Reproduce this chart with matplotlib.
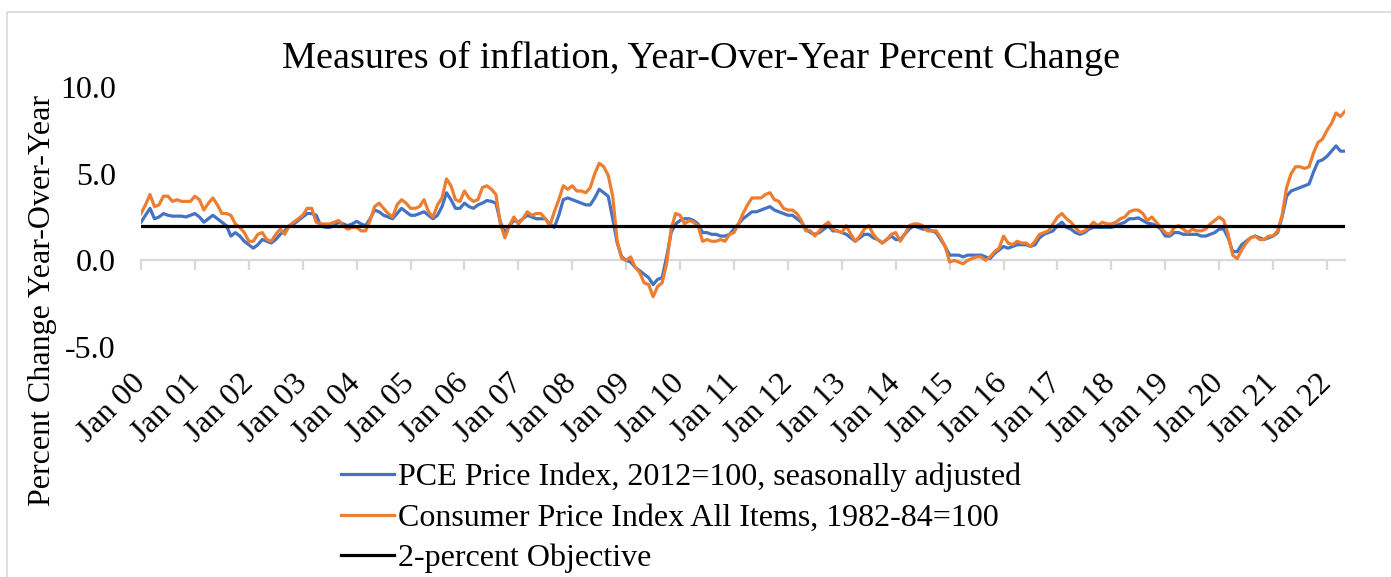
import matplotlib
matplotlib.use("Agg")
import matplotlib.pyplot as plt
from matplotlib.patches import Rectangle

# ---------------- data ----------------
tick_labels = ["Jan 00", "Jan 01", "Jan 02", "Jan 03", "Jan 04", "Jan 05", "Jan 06",
               "Jan 07", "Jan 08", "Jan 09", "Jan 10", "Jan 11", "Jan 12", "Jan 13",
               "Jan 14", "Jan 15", "Jan 16", "Jan 17", "Jan 18", "Jan 19", "Jan 20",
               "Jan 21", "Jan 22"]

pce = [
    # 2000
    2.2, 2.6, 3.0, 2.4, 2.5, 2.7, 2.6, 2.55, 2.55, 2.55, 2.5, 2.6,
    # 2001
    2.7, 2.5, 2.2, 2.4, 2.6, 2.4, 2.2, 2.0, 1.4, 1.6, 1.4, 1.1,
    # 2002
    0.9, 0.7, 0.9, 1.2, 1.1, 1.0, 1.2, 1.5, 1.7, 2.0, 2.1, 2.3,
    # 2003
    2.5, 2.7, 2.7, 2.6, 2.0, 1.9, 1.9, 2.0, 2.2, 2.1, 2.0, 2.1,
    # 2004
    2.25, 2.1, 2.0, 2.4, 2.9, 2.8, 2.6, 2.5, 2.4, 2.7, 3.0, 2.8,
    # 2005
    2.6, 2.6, 2.7, 2.8, 2.6, 2.4, 2.6, 3.1, 3.9, 3.5, 3.0, 3.0,
    # 2006
    3.3, 3.1, 3.0, 3.2, 3.3, 3.45, 3.4, 3.3, 2.2, 1.6, 2.0, 2.3,
    # 2007
    2.2, 2.4, 2.6, 2.5, 2.4, 2.4, 2.4, 2.1, 1.9, 2.6, 3.5, 3.6,
    # 2008
    3.5, 3.4, 3.3, 3.2, 3.2, 3.6, 4.1, 3.9, 3.7, 2.4, 1.0, 0.2,
    # 2009
    0.0, -0.1, -0.4, -0.6, -0.8, -1.0, -1.4, -1.1, -1.0, 0.2, 1.6, 2.1,
    # 2010
    2.3, 2.4, 2.4, 2.3, 2.1, 1.6, 1.6, 1.5, 1.5, 1.4, 1.4, 1.5,
    # 2011
    1.8, 2.1, 2.4, 2.6, 2.8, 2.8, 2.9, 3.0, 3.1, 2.9, 2.8, 2.7,
    # 2012
    2.6, 2.6, 2.4, 2.2, 1.8, 1.6, 1.5, 1.6, 1.8, 2.0, 1.7, 1.7,
    # 2013
    1.6, 1.5, 1.3, 1.1, 1.3, 1.5, 1.5, 1.3, 1.2, 1.0, 1.2, 1.4,
    # 2014
    1.2, 1.2, 1.5, 1.8, 2.0, 1.9, 1.8, 1.8, 1.7, 1.6, 1.2, 0.8,
    # 2015
    0.3, 0.3, 0.3, 0.2, 0.3, 0.3, 0.3, 0.3, 0.2, 0.1, 0.4, 0.6,
    # 2016
    0.8, 0.7, 0.8, 0.9, 0.9, 0.9, 0.8, 0.9, 1.3, 1.5, 1.6, 1.7,
    # 2017
    2.0, 2.2, 1.9, 1.8, 1.6, 1.5, 1.6, 1.8, 1.9, 1.9, 1.9, 1.9,
    # 2018
    1.9, 2.0, 2.1, 2.2, 2.4, 2.4, 2.45, 2.3, 2.15, 2.1, 2.0, 1.8,
    # 2019
    1.4, 1.4, 1.6, 1.6, 1.5, 1.5, 1.5, 1.5, 1.4, 1.4, 1.5, 1.6,
    # 2020
    1.8, 1.8, 1.3, 0.5, 0.5, 0.9, 1.1, 1.3, 1.4, 1.3, 1.2, 1.3,
    # 2021
    1.4, 1.6, 2.5, 3.7, 4.0, 4.1, 4.2, 4.3, 4.4, 5.1, 5.7, 5.8,
    # 2022
    6.0, 6.3, 6.6, 6.3, 6.3,
]

cpi = [
    # 2000
    2.7, 3.2, 3.8, 3.1, 3.2, 3.7, 3.7, 3.4, 3.5, 3.4, 3.4, 3.4,
    # 2001
    3.7, 3.5, 2.9, 3.3, 3.6, 3.2, 2.7, 2.7, 2.6, 2.1, 1.9, 1.6,
    # 2002
    1.1, 1.1, 1.5, 1.6, 1.2, 1.1, 1.5, 1.8, 1.5, 2.0, 2.2, 2.4,
    # 2003
    2.6, 3.0, 3.0, 2.2, 2.1, 2.1, 2.1, 2.2, 2.3, 2.0, 1.8, 1.9,
    # 2004
    1.9, 1.7, 1.7, 2.3, 3.1, 3.3, 3.0, 2.7, 2.5, 3.2, 3.5, 3.3,
    # 2005
    3.0, 3.0, 3.1, 3.5, 2.8, 2.5, 3.2, 3.6, 4.7, 4.3, 3.5, 3.4,
    # 2006
    4.0, 3.6, 3.4, 3.5, 4.2, 4.3, 4.1, 3.8, 2.1, 1.3, 2.0, 2.5,
    # 2007
    2.1, 2.4, 2.8, 2.6, 2.7, 2.7, 2.4, 2.0, 2.8, 3.5, 4.3, 4.1,
    # 2008
    4.3, 4.0, 4.0, 3.9, 4.2, 5.0, 5.6, 5.4, 4.9, 3.7, 1.1, 0.1,
    # 2009
    0.0, 0.2, -0.4, -0.7, -1.3, -1.4, -2.1, -1.5, -1.3, -0.2, 1.8, 2.7,
    # 2010
    2.6, 2.1, 2.3, 2.2, 2.0, 1.1, 1.2, 1.1, 1.1, 1.2, 1.1, 1.5,
    # 2011
    1.6, 2.1, 2.7, 3.2, 3.6, 3.6, 3.6, 3.8, 3.9, 3.5, 3.4, 3.0,
    # 2012
    2.9, 2.9, 2.7, 2.3, 1.7, 1.7, 1.4, 1.7, 2.0, 2.2, 1.8, 1.7,
    # 2013
    1.6, 2.0, 1.5, 1.1, 1.4, 1.8, 2.0, 1.5, 1.2, 1.0, 1.2, 1.5,
    # 2014
    1.6, 1.1, 1.5, 2.0, 2.1, 2.1, 2.0, 1.7, 1.7, 1.7, 1.3, 0.8,
    # 2015
    -0.1, 0.0, -0.1, -0.2, 0.0, 0.1, 0.2, 0.2, 0.0, 0.2, 0.5, 0.7,
    # 2016
    1.4, 1.0, 0.9, 1.1, 1.0, 1.0, 0.8, 1.1, 1.5, 1.6, 1.7, 2.1,
    # 2017
    2.5, 2.7, 2.4, 2.2, 1.9, 1.6, 1.7, 1.9, 2.2, 2.0, 2.2, 2.1,
    # 2018
    2.1, 2.2, 2.4, 2.5, 2.8, 2.9, 2.9, 2.7, 2.3, 2.5, 2.2, 1.9,
    # 2019
    1.6, 1.5, 1.9, 2.0, 1.8, 1.6, 1.8, 1.7, 1.7, 1.8, 2.1, 2.3,
    # 2020
    2.5, 2.3, 1.5, 0.3, 0.1, 0.6, 1.0, 1.3, 1.4, 1.2, 1.2, 1.4,
    # 2021
    1.4, 1.7, 2.6, 4.2, 5.0, 5.4, 5.4, 5.3, 5.4, 6.2, 6.8, 7.0,
    # 2022
    7.5, 7.9, 8.5, 8.3, 8.6,
]

objective = 2.0

series_labels = ["PCE Price Index, 2012=100, seasonally adjusted",
                 "Consumer Price Index All Items, 1982-84=100",
                 "2-percent Objective"]
y_ticks = [-5.0, 0.0, 5.0, 10.0]

# ---------------- figure ----------------
plt.rcParams['font.family'] = ['Liberation Serif', 'DejaVu Serif']
W, H = 1391, 577
fig = plt.figure(figsize=(W / 100, H / 100), dpi=100)

# chart border
fig.patches.append(Rectangle((7 / W, -0.05), 1.2, 1 - 11.5 / H + 0.05,
                             transform=fig.transFigure, fill=False,
                             edgecolor="#D9D9D9", linewidth=1.2))

ax_left, ax_right = 141 / W, 1345 / W
ax_top, ax_bot = 1 - 87 / H, 1 - 347 / H
ax = fig.add_axes([ax_left, ax_bot, ax_right - ax_left, ax_top - ax_bot])

n = len(cpi)
x = list(range(n))
blue, orange = "#4472C4", "#ED7D31"
ax.plot(x, pce, color=blue, lw=2.3, solid_joinstyle="round", zorder=3,
        label=series_labels[0])
ax.plot(x, cpi, color=orange, lw=2.3, solid_joinstyle="round", zorder=4,
        label=series_labels[1])
ax.plot(x, [objective] * n, color="black", lw=2.3, zorder=5,
        label=series_labels[2])

ax.set_xlim(0, n - 1)
ax.set_ylim(-5, 10)
ax.set_yticks(y_ticks)
ax.set_yticklabels([f"{v:.1f}" for v in y_ticks], fontsize=23)
ax.tick_params(axis="y", length=0, pad=18)

for s in ["top", "right", "left"]:
    ax.spines[s].set_visible(False)
ax.spines["bottom"].set_position(("data", 0))
ax.spines["bottom"].set_color("#D9D9D9")
ax.spines["bottom"].set_linewidth(1.6)
ax.spines["bottom"].set_zorder(1)

xt = list(range(0, n, 12))
ax.set_xticks(xt)
ax.tick_params(axis="x", direction="out", length=7, width=1.6, color="#D9D9D9",
               labelbottom=False)

sec = ax.secondary_xaxis("bottom")
sec.set_xticks(xt)
sec.set_xticklabels(tick_labels[:len(xt)], fontsize=23, rotation=45,
                    ha="right", va="center", rotation_mode="anchor")
sec.tick_params(axis="x", length=0, pad=23)
sec.spines["bottom"].set_visible(False)

ax.patch.set_visible(False)

fig.text(701 / W, 1 - 58 / H, "Measures of inflation, Year-Over-Year Percent Change",
         ha="center", va="center", fontsize=27.5)
fig.text(43 / W, 1 - 300 / H, "Percent Change Year-Over-Year", rotation=90,
         ha="center", va="center", fontsize=23)

leg = fig.legend(loc="upper left", bbox_to_anchor=(341 / W, 1 - 463 / H),
                 frameon=False, fontsize=23, handlelength=1.65,
                 handletextpad=0.15, labelspacing=0.34, borderpad=0,
                 borderaxespad=0)

fig.savefig("out.png", dpi=100)
